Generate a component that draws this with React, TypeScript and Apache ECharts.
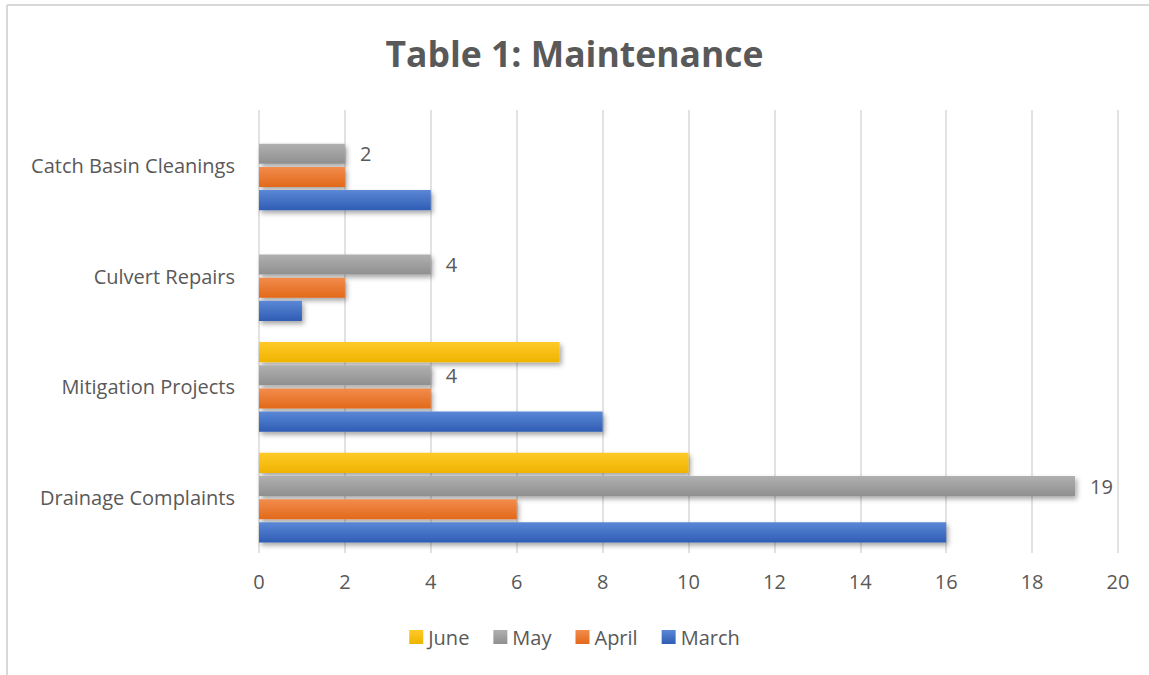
import React, { useEffect, useRef } from "react";
import * as echarts from "echarts";

const categories = ["Drainage Complaints", "Mitigation Projects", "Culvert Repairs", "Catch Basin Cleanings"];
const marchValues = [16, 8, 1, 4];
const aprilValues = [6, 4, 2, 2];
const mayValues = [19, 4, 4, 2];
const juneValues: (number | null)[] = [10, 7, null, null];
const legendOrder = ["June", "May", "April", "March"];
const xTicks = [0, 2, 4, 6, 8, 10, 12, 14, 16, 18, 20];

const FONT = "'Open Sans', 'Noto Sans', sans-serif";
const TEXT = "#595959";

function grad(top: string, bottom: string) {
  return new echarts.graphic.LinearGradient(0, 0, 0, 1, [
    { offset: 0, color: top },
    { offset: 1, color: bottom },
  ]);
}

const barShadow = {
  shadowColor: "rgba(0,0,0,0.35)",
  shadowBlur: 5,
  shadowOffsetX: 2,
  shadowOffsetY: 3,
};

export default function App() {
  const ref = useRef<HTMLDivElement>(null);
  useEffect(() => {
    document.body.style.margin = "0";
    const chart = echarts.init(ref.current!, null, { renderer: "svg" });
    const mk = (name: string, data: (number | null)[], top: string, bottom: string, label: boolean) => ({
      name,
      type: "bar",
      data: data.map((v) => (v == null ? "-" : v)),
      barGap: "15%",
      barCategoryGap: "19%",
      itemStyle: { color: grad(top, bottom), ...barShadow },
      label: label
        ? { show: true, position: "right", distance: 15, color: TEXT, fontSize: 20, fontFamily: FONT }
        : { show: false },
    });
    chart.setOption({
      animation: false,
      backgroundColor: "#ffffff",
      title: {
        text: "Table 1: Maintenance",
        left: "center",
        top: 30,
        textStyle: { color: TEXT, fontSize: 35.5, fontWeight: "bold", fontFamily: FONT },
      },
      legend: {
        data: legendOrder,
        bottom: 23,
        left: "center",
        itemWidth: 14,
        itemHeight: 14,
        itemGap: 24,
        icon: "rect",
        textStyle: { color: TEXT, fontSize: 20, fontFamily: FONT },
      },
      grid: { left: 259, right: 31, top: 110, bottom: 122 },
      xAxis: {
        type: "value",
        min: 0,
        max: 20,
        interval: 2,
        axisLine: { show: false },
        axisTick: { show: false },
        axisLabel: {
          color: TEXT,
          fontSize: 20,
          fontFamily: FONT,
          margin: 18,
          formatter: (v: number) => (xTicks.includes(v) ? String(v) : ""),
        },
        splitLine: { show: true, lineStyle: { color: "#d9d9d9", width: 1.5 } },
      },
      yAxis: {
        type: "category",
        data: categories,
        axisLine: { show: false },
        axisTick: { show: false },
        splitLine: { show: false },
        axisLabel: { color: TEXT, fontSize: 20, fontFamily: FONT, margin: 24 },
      },
      graphic: [
        { type: "line", shape: { x1: 7, y1: 5, x2: 1149, y2: 5 }, style: { stroke: "#d9d9d9", lineWidth: 2 } },
        { type: "line", shape: { x1: 7, y1: 5, x2: 7, y2: 675 }, style: { stroke: "#d9d9d9", lineWidth: 2 } },
      ],
      series: [
        mk("June", juneValues, "#ffca28", "#efb400", false),
        mk("May", mayValues, "#b0b0b0", "#8f8f8f", true),
        mk("April", aprilValues, "#f28c4c", "#e2691a", false),
        mk("March", marchValues, "#5b87d6", "#2f5db4", false),
      ],
    });
    return () => chart.dispose();
  }, []);
  return <div ref={ref} style={{ width: 1149, height: 675 }} />;
}
